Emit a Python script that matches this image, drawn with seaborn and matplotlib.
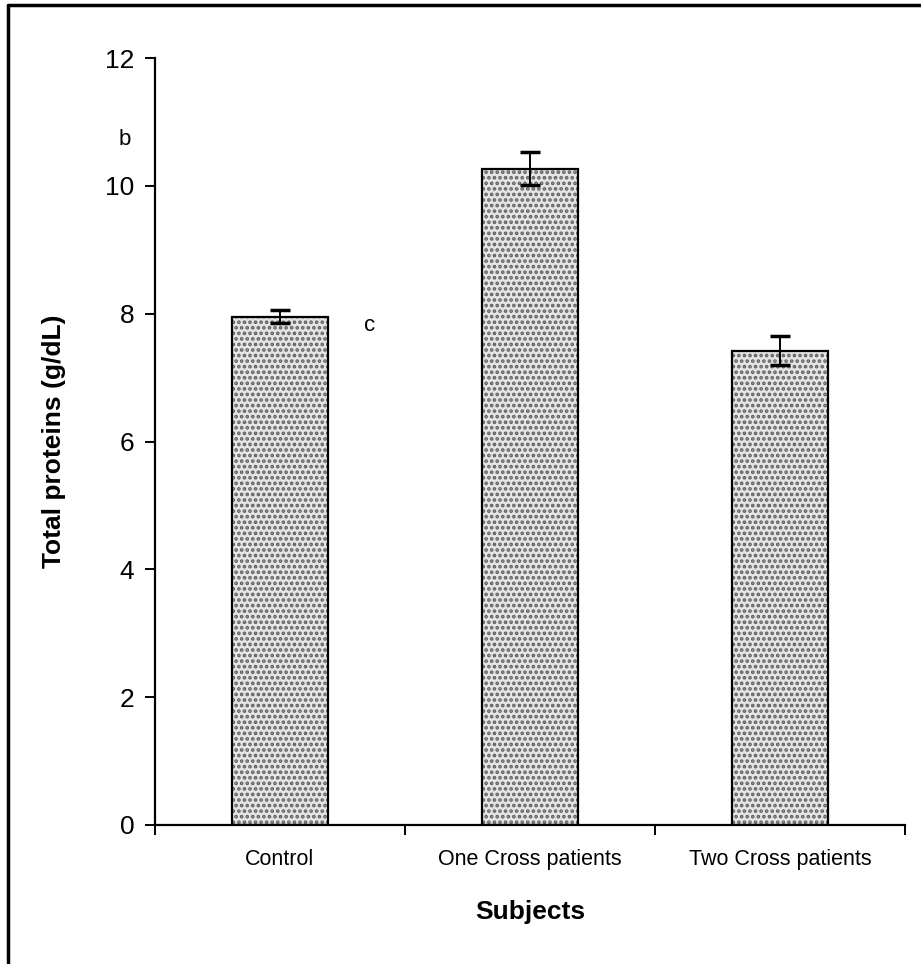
import matplotlib
matplotlib.use("Agg")
import matplotlib.pyplot as plt
import seaborn as sns
import pandas as pd
from matplotlib.lines import Line2D
from matplotlib.ticker import FixedLocator

categories = ["Control", "One Cross patients", "Two Cross patients"]
means = [7.95, 10.27, 7.42]
errors = [0.10, 0.26, 0.23]
letters = ["b", "c"]
letter_pos = [(-0.62, 10.72), (0.36, 7.82)]
yticks = [0, 2, 4, 6, 8, 10, 12]

sns.set_theme(style="white")
plt.rcParams["font.family"] = ["Liberation Sans", "DejaVu Sans"]
plt.rcParams["hatch.linewidth"] = 1.8
plt.rcParams["text.color"] = "black"
plt.rcParams["axes.labelcolor"] = "black"
plt.rcParams["xtick.color"] = "black"
plt.rcParams["ytick.color"] = "black"

df = pd.DataFrame({"Subjects": categories, "Total": means})

fig = plt.figure(figsize=(9.21, 9.64), dpi=100)
ax = fig.add_axes([155/921, 1-825/964, (905-155)/921, (825-58)/964])

sns.barplot(data=df, x="Subjects", y="Total", ax=ax, color="#e4e4e4",
            edgecolor="#606060", hatch="...", linewidth=0, width=0.385,
            errorbar=None, saturation=1)
sns.barplot(data=df, x="Subjects", y="Total", ax=ax, fill=False,
            edgecolor="black", linewidth=1.6, width=0.385,
            errorbar=None)
ax.errorbar(x=range(len(categories)), y=means, yerr=errors, fmt="none",
            ecolor="black", elinewidth=1.4, capsize=7, capthick=2.5)

ax.set_xlim(-0.5, 2.5)
ax.set_ylim(0, 12)
ax.set_yticks(yticks)
ax.set_yticklabels([str(v) for v in yticks], fontsize=19)
ax.set_xticks(range(len(categories)))
ax.set_xticklabels(categories, fontsize=15.5)
ax.xaxis.set_minor_locator(FixedLocator([-0.5, 0.5, 1.5, 2.5]))
ax.tick_params(axis="x", which="major", length=0, pad=17)
ax.tick_params(axis="x", which="minor", length=7, width=1.4, direction="out", bottom=True, color="black")
ax.tick_params(axis="y", which="major", length=7, width=1.4, direction="out", left=True, pad=8, color="black")

for s in ["top", "right"]:
    ax.spines[s].set_visible(False)
for s in ["left", "bottom"]:
    ax.spines[s].set_color("black")
    ax.spines[s].set_linewidth(1.6)

ax.set_xlabel("Subjects", fontsize=19, fontweight="bold", labelpad=22)
ax.set_ylabel("Total proteins (g/dL)", fontsize=19, fontweight="bold", labelpad=28)

for t, (x, y) in zip(letters, letter_pos):
    ax.text(x, y, t, fontsize=16, ha="center", va="center", clip_on=False, color="black")

# outer frame (top and left edges)
fig.add_artist(Line2D([8/921, 1.0], [1-5/964, 1-5/964], transform=fig.transFigure, color="black", lw=2.5))
fig.add_artist(Line2D([8/921, 8/921], [0, 1-5/964], transform=fig.transFigure, color="black", lw=2.5))

fig.savefig("out.png", dpi=100)
